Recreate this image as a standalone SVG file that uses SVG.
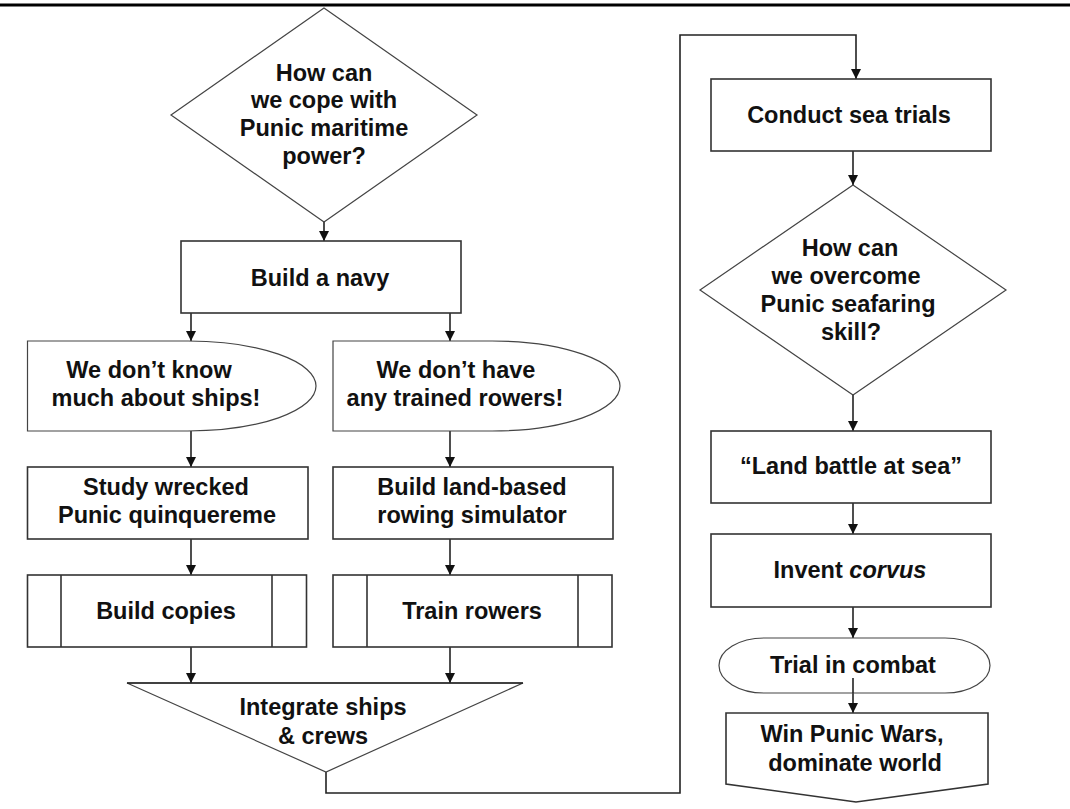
<svg xmlns="http://www.w3.org/2000/svg" width="1070" height="809" viewBox="0 0 1070 809">
<defs>
<style>
.s{fill:#fff;stroke:#333;stroke-width:1.6}
.d{fill:#fff;stroke:#444;stroke-width:1.2}
.c{fill:none;stroke:#222;stroke-width:1.6}
text{font-family:"Liberation Sans",Arial,sans-serif;font-weight:bold;font-size:23.5px;fill:#111;text-anchor:middle}
</style>
<marker id="ah" markerUnits="userSpaceOnUse" markerWidth="10" markerHeight="12" viewBox="0 0 10 12" refX="10" refY="5" orient="auto">
<path d="M0,0 L10,5 L0,10 Z" fill="#111"/>
</marker>
</defs>
<rect width="1070" height="809" fill="#fff"/>
<line x1="0" y1="5" x2="1070" y2="5" stroke="#000" stroke-width="3"/>

<g id="connectors">
<path class="c" d="M324,222 V241" marker-end="url(#ah)"/>
<path class="c" d="M191,313 V341" marker-end="url(#ah)"/>
<path class="c" d="M450,313 V341" marker-end="url(#ah)"/>
<path class="c" d="M191,431 V467" marker-end="url(#ah)"/>
<path class="c" d="M450,431 V467" marker-end="url(#ah)"/>
<path class="c" d="M191,539 V575" marker-end="url(#ah)"/>
<path class="c" d="M450,539 V575" marker-end="url(#ah)"/>
<path class="c" d="M191,647 V683" marker-end="url(#ah)"/>
<path class="c" d="M450,647 V683" marker-end="url(#ah)"/>
<path class="c" d="M326,772 V793 H680 V35 H856 V79" marker-end="url(#ah)"/>
<path class="c" d="M853,151 V185" marker-end="url(#ah)"/>
<path class="c" d="M853,395 V431" marker-end="url(#ah)"/>
<path class="c" d="M853,503 V534" marker-end="url(#ah)"/>
<path class="c" d="M853,607 V638" marker-end="url(#ah)"/>
<path class="c" d="M853,678 V713" marker-end="url(#ah)"/>
</g>

<g id="q1">
<polygon class="d" points="324,8 477,115 324,222 171,115"/>
<text x="324" y="81">How can</text>
<text x="324" y="108">we cope with</text>
<text x="324" y="136">Punic maritime</text>
<text x="324" y="164">power?</text>
</g>

<g id="navy">
<rect class="s" x="181" y="241" width="280" height="72"/>
<text x="320" y="286">Build a navy</text>
</g>

<g id="ships">
<path class="d" d="M27.5,341 H188 A128,45 0 0 1 188,431 H27.5 Z"/>
<text x="149" y="378">We don’t know</text>
<text x="156" y="406">much about ships!</text>
</g>

<g id="rowers">
<path class="d" d="M333,341 H492 A128,45 0 0 1 492,431 H333 Z"/>
<text x="456" y="378">We don’t have</text>
<text x="455" y="406">any trained rowers!</text>
</g>

<g id="study">
<rect class="s" x="27.5" y="467" width="280.5" height="72"/>
<text x="166" y="495">Study wrecked</text>
<text x="167" y="523">Punic quinquereme</text>
</g>

<g id="simulator">
<rect class="s" x="333" y="467" width="280" height="72"/>
<text x="472" y="495">Build land-based</text>
<text x="472" y="523">rowing simulator</text>
</g>

<g id="copies">
<rect class="s" x="27.5" y="575" width="279" height="72"/>
<line class="s" x1="61" y1="575" x2="61" y2="647"/>
<line class="s" x1="272" y1="575" x2="272" y2="647"/>
<text x="166" y="619">Build copies</text>
</g>

<g id="train">
<rect class="s" x="333" y="575" width="279" height="72"/>
<line class="s" x1="367" y1="575" x2="367" y2="647"/>
<line class="s" x1="578" y1="575" x2="578" y2="647"/>
<text x="472" y="619">Train rowers</text>
</g>

<g id="integrate">
<polygon class="d" points="127,683 523,683 326,772"/>
<line x1="127" y1="683" x2="523" y2="683" stroke="#222" stroke-width="1.6"/>
<text x="323" y="715">Integrate ships</text>
<text x="323" y="744">&amp; crews</text>
</g>

<g id="seatrials">
<rect class="s" x="711" y="79" width="280" height="72"/>
<text x="849" y="123">Conduct sea trials</text>
</g>

<g id="q2">
<polygon class="d" points="853,185 1006,290 853,395 700,290"/>
<text x="850" y="256">How can</text>
<text x="846" y="284">we overcome</text>
<text x="848" y="312">Punic seafaring</text>
<text x="851" y="340">skill?</text>
</g>

<g id="landbattle">
<rect class="s" x="711" y="431" width="280" height="72"/>
<text x="851" y="474">“Land battle at sea”</text>
</g>

<g id="corvus">
<rect class="s" x="711" y="534" width="280" height="73"/>
<text x="850" y="578">Invent <tspan font-style="italic">corvus</tspan></text>
</g>

<g id="trial">
<rect class="d" x="719" y="638" width="271" height="55" rx="45" ry="27.5"/>
<text x="853" y="673">Trial in combat</text>
<line x1="853" y1="678" x2="853" y2="693" stroke="#222" stroke-width="1.6"/>
</g>

<g id="win">
<polygon class="s" points="726,713 988,713 988,784 856,802 726,784"/>
<text x="852" y="742">Win Punic Wars,</text>
<text x="855" y="771">dominate world</text>
</g>
</svg>
